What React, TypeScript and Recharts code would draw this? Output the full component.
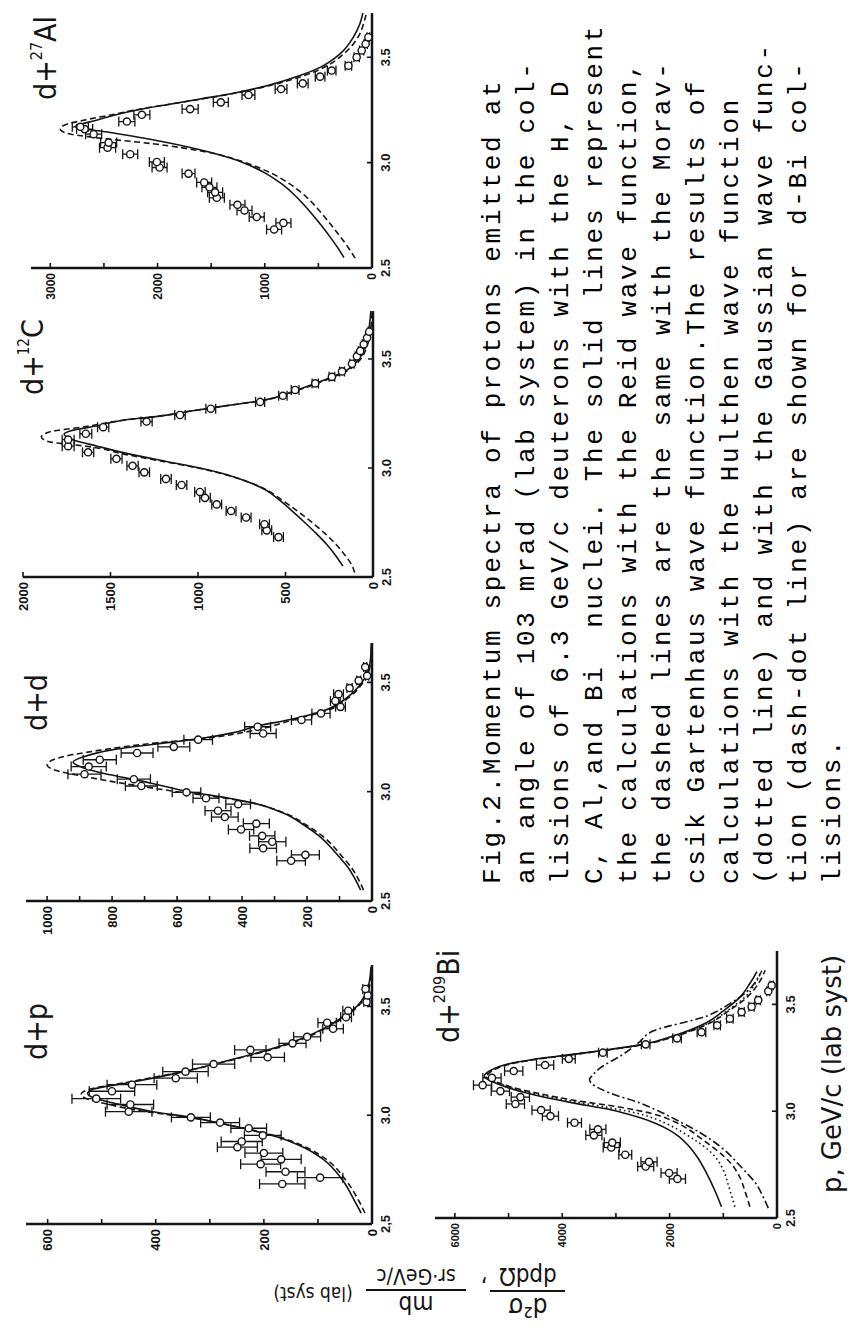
import React from 'react';
import { ComposedChart, Line, Scatter, XAxis, YAxis, ErrorBar } from 'recharts';

type Pt = [number, number];
type EPt = [number, number, number];

// ---------- d + p ----------
const DP_POINTS: EPt[] = [
  [2.684, 166, 42], [2.713, 96, 42], [2.74, 160, 36], [2.775, 206, 37], [2.797, 168, 37],
  [2.826, 200, 35], [2.853, 249, 37], [2.879, 241, 38], [2.907, 202, 34], [2.94, 228, 33],
  [2.966, 281, 36], [2.99, 335, 36], [3.016, 450, 43], [3.049, 447, 43], [3.076, 510, 45],
  [3.11, 481, 42], [3.14, 444, 46], [3.17, 363, 40], [3.2, 345, 42], [3.235, 293, 39],
  [3.266, 193, 31], [3.3, 225, 29], [3.33, 147, 25], [3.36, 120, 25], [3.397, 72, 19],
  [3.425, 83, 17], [3.45, 48, 10], [3.48, 44, 10], [3.52, 10, 5], [3.55, 8, 4], [3.58, 12, 5],
];
const DP_SOLID: Pt[] = [
  [2.55, 20], [2.6, 31], [2.7, 54], [2.8, 92], [2.85, 125], [2.9, 175], [2.95, 257], [2.99, 335],
  [3.016, 405], [3.05, 468], [3.08, 515], [3.1, 526], [3.12, 515], [3.15, 448], [3.2, 348],
  [3.25, 268], [3.3, 192], [3.35, 132], [3.4, 88], [3.45, 55], [3.5, 28], [3.55, 13], [3.6, 6], [3.68, 2],
];
const DP_DASHED: Pt[] = [
  [2.55, 13], [2.6, 23], [2.7, 48], [2.8, 86], [2.85, 120], [2.9, 172], [2.95, 255], [2.99, 340],
  [3.016, 418], [3.05, 488], [3.08, 532], [3.095, 538], [3.115, 528], [3.15, 455], [3.2, 350],
  [3.25, 265], [3.3, 188], [3.35, 128], [3.4, 85], [3.45, 52], [3.5, 26], [3.55, 11], [3.6, 4], [3.68, 1],
];

// ---------- d + d ----------
const DD_POINTS: EPt[] = [
  [2.684, 249, 44], [2.711, 205, 43], [2.741, 335, 41], [2.771, 307, 42], [2.798, 338, 39],
  [2.827, 403, 39], [2.854, 356, 40], [2.884, 453, 41], [2.913, 474, 40], [2.943, 412, 38],
  [2.97, 511, 40], [2.997, 571, 44], [3.026, 710, 49], [3.057, 733, 51], [3.08, 885, 51],
  [3.115, 872, 54], [3.146, 838, 51], [3.177, 723, 49], [3.205, 610, 49], [3.238, 535, 44],
  [3.266, 335, 40], [3.297, 352, 40], [3.328, 217, 31], [3.358, 157, 28], [3.388, 97, 15],
  [3.415, 113, 15], [3.446, 103, 15], [3.474, 69, 8], [3.508, 41, 6], [3.53, 15, 5], [3.57, 21, 5],
];
const DD_SOLID: Pt[] = [
  [2.55, 35], [2.6, 52], [2.65, 72], [2.7, 100], [2.8, 165], [2.85, 212], [2.9, 270], [2.95, 370],
  [2.97, 440], [3.0, 565], [3.04, 682], [3.077, 805], [3.11, 890], [3.135, 920], [3.16, 887],
  [3.19, 805], [3.215, 682], [3.243, 528], [3.27, 426], [3.3, 354], [3.33, 251], [3.37, 149],
  [3.43, 77], [3.49, 36], [3.55, 12], [3.6, 5], [3.68, 2],
];
const DD_DASHED: Pt[] = [
  [2.55, 26], [2.6, 42], [2.65, 62], [2.7, 90], [2.8, 155], [2.85, 205], [2.9, 265], [2.95, 375],
  [2.97, 450], [3.0, 600], [3.03, 733], [3.07, 887], [3.1, 979], [3.123, 1000], [3.15, 975],
  [3.19, 836], [3.22, 682], [3.245, 508], [3.28, 364], [3.33, 241], [3.37, 140], [3.43, 72],
  [3.49, 32], [3.55, 10], [3.6, 4], [3.68, 1],
];

// ---------- d + 12C ----------
const C_POINTS: EPt[] = [
  [2.683, 540, 28], [2.714, 607, 28], [2.742, 620, 28], [2.773, 725, 28], [2.803, 811, 28],
  [2.833, 893, 28], [2.863, 960, 30], [2.89, 989, 30], [2.922, 1094, 30], [2.95, 1183, 30],
  [2.98, 1307, 30], [3.01, 1374, 32], [3.042, 1466, 32], [3.072, 1628, 32], [3.1, 1742, 34],
  [3.13, 1742, 34], [3.157, 1641, 34], [3.187, 1542, 32], [3.213, 1294, 32], [3.243, 1103, 30],
  [3.272, 927, 28], [3.303, 645, 26], [3.331, 515, 24], [3.358, 445, 22], [3.388, 330, 18],
  [3.418, 235, 16], [3.443, 177, 14], [3.478, 120, 12], [3.512, 92, 10], [3.537, 73, 10],
  [3.567, 53, 8], [3.597, 34, 8], [3.625, 22, 6],
];
const C_SOLID: Pt[] = [
  [2.55, 172], [2.6, 215], [2.65, 265], [2.7, 325], [2.75, 390], [2.8, 458], [2.85, 530], [2.9, 615],
  [2.925, 680], [2.95, 760], [2.975, 860], [3.0, 989], [3.03, 1180], [3.06, 1370], [3.1, 1575],
  [3.13, 1714], [3.155, 1765], [3.17, 1730], [3.19, 1600], [3.22, 1420], [3.24, 1200], [3.26, 1050],
  [3.29, 800], [3.31, 630], [3.35, 460], [3.4, 290], [3.44, 168], [3.5, 80], [3.55, 50], [3.6, 32], [3.72, 12],
];
const C_DASHED: Pt[] = [
  [2.52, 105], [2.55, 118], [2.6, 160], [2.65, 212], [2.7, 275], [2.75, 348], [2.8, 428], [2.85, 515],
  [2.9, 610], [2.925, 678], [2.95, 762], [2.975, 868], [3.0, 1000], [3.03, 1200], [3.06, 1400],
  [3.1, 1640], [3.12, 1850], [3.142, 1895], [3.165, 1850], [3.19, 1640], [3.22, 1420], [3.24, 1200],
  [3.26, 1050], [3.29, 800], [3.31, 630], [3.35, 455], [3.4, 280], [3.44, 160], [3.5, 70], [3.55, 38],
  [3.6, 20], [3.72, 5],
];

// ---------- d + 27Al ----------
const AL_POINTS: EPt[] = [
  [2.683, 913, 70], [2.714, 826, 70], [2.742, 1075, 70], [2.773, 1189, 70], [2.8, 1255, 70],
  [2.833, 1447, 70], [2.859, 1463, 70], [2.883, 1516, 70], [2.906, 1565, 70], [2.948, 1711, 60],
  [2.977, 1981, 70], [3.003, 2006, 70], [3.04, 2255, 70], [3.071, 2466, 75], [3.095, 2456, 75],
  [3.135, 2596, 75], [3.159, 2680, 75], [3.17, 2720, 75], [3.195, 2286, 75], [3.227, 2146, 75],
  [3.254, 1696, 75], [3.286, 1410, 70], [3.321, 1152, 60], [3.349, 848, 55], [3.376, 646, 50],
  [3.408, 484, 45], [3.437, 376, 40], [3.46, 220, 30], [3.5, 143, 25], [3.532, 96, 20],
  [3.563, 59, 15], [3.595, 34, 12],
];
const AL_SOLID: Pt[] = [
  [2.55, 262], [2.6, 325], [2.65, 395], [2.7, 470], [2.75, 550], [2.8, 635], [2.85, 730], [2.9, 845],
  [2.95, 995], [3.0, 1200], [3.05, 1520], [3.1, 1960], [3.143, 2441], [3.17, 2767], [3.2, 2580],
  [3.246, 2224], [3.275, 1913], [3.302, 1602], [3.329, 1292], [3.365, 981], [3.413, 671],
  [3.452, 484], [3.516, 298], [3.595, 174], [3.66, 112], [3.71, 85],
];
const AL_DASHED: Pt[] = [
  [2.547, 158], [2.6, 225], [2.65, 298], [2.7, 375], [2.75, 455], [2.8, 540], [2.85, 640], [2.9, 770],
  [2.95, 940], [3.0, 1180], [3.05, 1540], [3.09, 2050], [3.12, 2600], [3.14, 2850], [3.16, 2907],
  [3.18, 2860], [3.2, 2700], [3.23, 2400], [3.25, 2210], [3.275, 1913], [3.3, 1610], [3.33, 1270],
  [3.365, 960], [3.41, 650], [3.45, 455], [3.52, 255], [3.6, 125], [3.66, 78], [3.71, 52],
];

// ---------- d + 209Bi ----------
const BI_POINTS: EPt[] = [
  [2.683, 1855, 150], [2.711, 2010, 150], [2.741, 2446, 150], [2.763, 2384, 150], [2.796, 2826, 120],
  [2.83, 3087, 150], [2.853, 3068, 150], [2.887, 3411, 150], [2.915, 3336, 150], [2.946, 3772, 130],
  [2.977, 4220, 150], [3.005, 4394, 170], [3.034, 4873, 170], [3.066, 4780, 170], [3.094, 5153, 170],
  [3.122, 5483, 170], [3.156, 5309, 170], [3.188, 4904, 170], [3.216, 4319, 160], [3.245, 3878, 120],
  [3.274, 3243, 80], [3.313, 2446, 80], [3.341, 1861, 80], [3.37, 1407, 80], [3.402, 1114, 60],
  [3.433, 878, 60], [3.464, 660, 50], [3.489, 473, 50], [3.52, 349, 40], [3.562, 162, 30], [3.589, 99, 30],
];
const BI_SOLID: Pt[] = [
  [2.553, 1034], [2.63, 1160], [2.711, 1315], [2.78, 1470], [2.836, 1640], [2.88, 1820], [2.915, 2030],
  [2.945, 2280], [2.97, 2560], [3.008, 3118], [3.039, 3803], [3.078, 4550], [3.125, 5172], [3.164, 5452],
  [3.19, 5350], [3.219, 5048], [3.242, 4550], [3.266, 3803], [3.289, 3118], [3.313, 2496], [3.352, 1938],
  [3.414, 1315], [3.47, 1000], [3.533, 692], [3.6, 500], [3.654, 374],
];
const BI_DOTTED: Pt[] = [
  [2.553, 785], [2.64, 890], [2.726, 1003], [2.78, 1130], [2.821, 1290], [2.86, 1500], [2.9, 1750],
  [2.935, 2000], [2.962, 2249], [2.99, 2600], [3.015, 3100], [3.045, 3780], [3.08, 4500], [3.125, 5130],
  [3.164, 5420], [3.19, 5320], [3.219, 5020], [3.242, 4520], [3.266, 3780], [3.289, 3100], [3.313, 2480],
  [3.352, 1900], [3.414, 1260], [3.47, 930], [3.533, 600], [3.6, 400], [3.66, 280],
];
const BI_DASHED: Pt[] = [
  [2.553, 505], [2.62, 590], [2.695, 700], [2.75, 840], [2.789, 990], [2.836, 1220], [2.875, 1430],
  [2.915, 1650], [2.954, 1938], [2.99, 2350], [3.02, 2950], [3.05, 3750], [3.085, 4480], [3.125, 5100],
  [3.164, 5400], [3.19, 5300], [3.219, 5000], [3.242, 4500], [3.266, 3770], [3.289, 3090], [3.313, 2470],
  [3.352, 1880], [3.414, 1240], [3.47, 900], [3.533, 560], [3.6, 340], [3.66, 220],
];
const BI_DASHDOT: Pt[] = [
  [2.546, 162], [2.6, 260], [2.664, 400], [2.71, 560], [2.758, 740], [2.8, 900], [2.836, 1065],
  [2.87, 1250], [2.9, 1439], [2.947, 1780], [3.0, 2200], [3.039, 2562], [3.086, 3121], [3.133, 3465],
  [3.148, 3493], [3.17, 3430], [3.2, 3305], [3.266, 2869], [3.32, 2580], [3.375, 2311], [3.445, 1315],
  [3.5, 900], [3.56, 560], [3.65, 300],
];

const P_TICKS = [2.5, 3.0, 3.5];
const DP_P_LABELS = ['2,5', '3.0', '3.5'];
const STD_P_LABELS = ['2.5', '3.0', '3.5'];
const DP_V_TICKS = [0, 100, 200, 300, 400, 500, 600];
const DD_V_TICKS = [0, 100, 200, 300, 400, 500, 600, 700, 800, 900, 1000];
const C_V_TICKS = [0, 500, 1000, 1500, 2000];
const AL_V_TICKS = [0, 500, 1000, 1500, 2000, 2500, 3000];
const BI_V_TICKS = [0, 1000, 2000, 3000, 4000, 5000, 6000];

const CAPTION_LINES = [
  'Fig.2.Momentum spectra of protons emitted at',
  'an angle of 103 mrad (lab system) in the col-',
  'lisions of 6.3 GeV/c deuterons with the H, D',
  'C, Al,and Bi  nuclei. The solid lines represent',
  'the calculations with the Reid wave function,',
  'the dashed lines are the same with the Morav-',
  'csik Gartenhaus wave function.The results of',
  'calculations with the Hulthen wave function',
  '(dotted line) and with the Gaussian wave func-',
  'tion (dash-dot line) are shown for  d-Bi col-',
  'lisions.',
];

const INK = '#151515';
const SANS = "'DejaVu Sans Condensed', 'DejaVu Sans', sans-serif";
const TICKFONT = "'Liberation Sans', Arial, sans-serif";
const DASH = '6 3.5';
const DOT = '1.6 3';
const DASHDOT = '8 3 2 3';

interface Curve { data: Pt[]; dash?: string }
interface PanelDef {
  id: string;
  x0: number; x1: number; y0: number; y1: number;
  pMax: number; vMax: number;
  vTicks: number[]; vLabelEvery: number; vFont: number;
  pLabels: string[];
  points: EPt[];
  curves: Curve[];
}

const PANELS: PanelDef[] = [
  { id: 'dp', x0: 104, x1: 363, y0: 26, y1: 372, pMax: 3.69, vMax: 640, vTicks: DP_V_TICKS, vLabelEvery: 200, vFont: 13,
    pLabels: DP_P_LABELS, points: DP_POINTS, curves: [{ data: DP_SOLID }, { data: DP_DASHED, dash: DASH }] },
  { id: 'dd', x0: 427, x1: 685, y0: 26, y1: 372, pMax: 3.68, vMax: 1065, vTicks: DD_V_TICKS, vLabelEvery: 200, vFont: 13,
    pLabels: STD_P_LABELS, points: DD_POINTS, curves: [{ data: DD_SOLID }, { data: DD_DASHED, dash: DASH }] },
  { id: 'c', x0: 751, x1: 1017, y0: 23, y1: 373, pMax: 3.72, vMax: 2000, vTicks: C_V_TICKS, vLabelEvery: 500, vFont: 13,
    pLabels: STD_P_LABELS, points: C_POINTS, curves: [{ data: C_SOLID }, { data: C_DASHED, dash: DASH }] },
  { id: 'al', x0: 1060, x1: 1315, y0: 31, y1: 372, pMax: 3.71, vMax: 3180, vTicks: AL_V_TICKS, vLabelEvery: 1000, vFont: 12,
    pLabels: STD_P_LABELS, points: AL_POINTS, curves: [{ data: AL_SOLID }, { data: AL_DASHED, dash: DASH }] },
  { id: 'bi', x0: 110, x1: 377, y0: 435, y1: 777, pMax: 3.75, vMax: 6370, vTicks: BI_V_TICKS, vLabelEvery: 2000, vFont: 11,
    pLabels: STD_P_LABELS, points: BI_POINTS,
    curves: [{ data: BI_SOLID }, { data: BI_DOTTED, dash: DOT }, { data: BI_DASHED, dash: DASH }, { data: BI_DASHDOT, dash: DASHDOT }] },
];

const Circle = (props: any) => {
  const { cx, cy } = props;
  if (cx == null || cy == null) return <g />;
  return <circle cx={cx} cy={cy} r={3.6} fill="#fff" stroke={INK} strokeWidth={1.4} />;
};

const makeYTick = (every: number, fontSize: number) => (props: any) => {
  const { x, y, payload } = props;
  const v = payload.value as number;
  const ax = x + 5;
  const show = Math.abs(v / every - Math.round(v / every)) < 1e-6;
  return (
    <g>
      <line x1={ax} x2={ax + 5} y1={y} y2={y} stroke={INK} strokeWidth={1.6} />
      {show && (
        <text x={x} y={y} dy="0.36em" textAnchor="end" fontSize={fontSize} fontWeight="bold" fontFamily={TICKFONT} fill={INK}>
          {v}
        </text>
      )}
    </g>
  );
};

const makeXTick = (labels: string[]) => (props: any) => {
  const { x, y, payload } = props;
  const idx = P_TICKS.findIndex((t) => Math.abs(t - payload.value) < 1e-6);
  const ay = y - 8;
  return (
    <g>
      <line x1={x} x2={x} y1={ay} y2={ay - 5} stroke={INK} strokeWidth={1.6} />
      <text x={x} y={y} dy="0.76em" textAnchor="middle" fontSize={13} fontWeight="bold" fontFamily={TICKFONT} fill={INK}>
        {idx >= 0 ? labels[idx] : ''}
      </text>
    </g>
  );
};

function Panel({ d }: { d: PanelDef }) {
  const left = d.x0 - 60;
  const top = d.y0 - 12;
  const width = d.x1 - d.x0 + 72;
  const height = d.y1 - d.y0 + 52;
  const pts = d.points.map(([p, v, e]) => ({ p, v, e }));
  return (
    <div style={{ position: 'absolute', left, top, width, height }}>
      <ComposedChart width={width} height={height} margin={{ top: 12, right: 12, bottom: 10, left: 20 }}>
        <XAxis
          dataKey="p" type="number" domain={[2.5, d.pMax]} ticks={P_TICKS} allowDataOverflow interval={0}
          height={30} tickSize={0} tickMargin={8} tickLine={false} tick={makeXTick(d.pLabels)}
          axisLine={{ stroke: INK, strokeWidth: 2.5 }}
        />
        <YAxis
          type="number" domain={[0, d.vMax]} ticks={d.vTicks} allowDataOverflow interval={0}
          width={40} tickSize={0} tickMargin={5} tickLine={false} tick={makeYTick(d.vLabelEvery, d.vFont)}
          axisLine={{ stroke: INK, strokeWidth: 2.5 }}
        />
        {d.curves.map((c, i) => (
          <Line
            key={d.id + i}
            data={c.data.map(([p, v]) => ({ p, v }))}
            dataKey="v" type="monotone" stroke={INK} strokeWidth={1.6}
            strokeDasharray={c.dash} dot={false} activeDot={false} isAnimationActive={false}
          />
        ))}
        <Scatter data={pts} dataKey="v" shape={Circle} isAnimationActive={false}>
          <ErrorBar dataKey="e" direction="y" width={5} stroke={INK} strokeWidth={1.3} isAnimationActive={false} />
        </Scatter>
      </ComposedChart>
    </div>
  );
}

function Overlay() {
  const lbl = { fontFamily: SANS, fontSize: 30, fill: INK } as const;
  return (
    <svg width={1328} height={853} style={{ position: 'absolute', left: 0, top: 0, overflow: 'visible', pointerEvents: 'none' }}>
      <text x={268} y={47} {...lbl}>d+p</text>
      <text x={597} y={47} {...lbl}>d+d</text>
      <text x={933} y={43} {...lbl}>d+<tspan fontSize={15} dy={-14}>12</tspan><tspan dy={14}>C</tspan></text>
      <text x={1228} y={56} {...lbl}>d+<tspan fontSize={16} dy={-14}>27</tspan><tspan dy={14}>Al</tspan></text>
      <text x={285} y={459} {...lbl}>d+<tspan fontSize={16} dy={-14}>209</tspan><tspan dy={14}>Bi</tspan></text>

      <text x={135} y={841} fontFamily={SANS} fontSize={26} fill={INK} textLength={238} lengthAdjust="spacingAndGlyphs">
        p, GeV/c (lab syst)
      </text>

      <g transform="rotate(-90)" fill={INK} fontFamily={SANS}>
        <text x={-528} y={30} fontSize={26} textAnchor="middle">d²σ</text>
        <line x1={-565} x2={-490} y1={37} y2={37} stroke={INK} strokeWidth={2} />
        <text x={-528} y={60} fontSize={24} textAnchor="middle">dpdΩ</text>
        <text x={-484} y={48} fontSize={24} textAnchor="middle">,</text>
        <text x={-416} y={32} fontSize={24} textAnchor="middle">mb</text>
        <line x1={-466} x2={-366} y1={38} y2={38} stroke={INK} strokeWidth={2} />
        <text x={-416} y={59} fontSize={21} textAnchor="middle">sr·GeV/c</text>
        <text x={-313} y={41} fontSize={19} textAnchor="middle">(lab syst)</text>
      </g>

      {CAPTION_LINES.map((s, i) => (
        <text
          key={i} x={444} y={500 + 34 * i}
          fontFamily="'Liberation Mono', 'DejaVu Sans Mono', monospace" fontSize={26} letterSpacing={2.7}
          fill="#000" style={{ whiteSpace: 'pre' }}
        >
          {s}
        </text>
      ))}
    </svg>
  );
}

export default function App() {
  return (
    <div style={{ position: 'absolute', left: 0, top: 0, width: 853, height: 1328, overflow: 'hidden', background: '#fff' }}>
      <div
        style={{
          position: 'absolute', left: 0, top: 0, width: 1328, height: 853,
          transformOrigin: '0 0', transform: 'translate(0px, 1328px) rotate(-90deg)',
        }}
      >
        {PANELS.map((d) => (
          <Panel key={d.id} d={d} />
        ))}
        <Overlay />
      </div>
    </div>
  );
}
